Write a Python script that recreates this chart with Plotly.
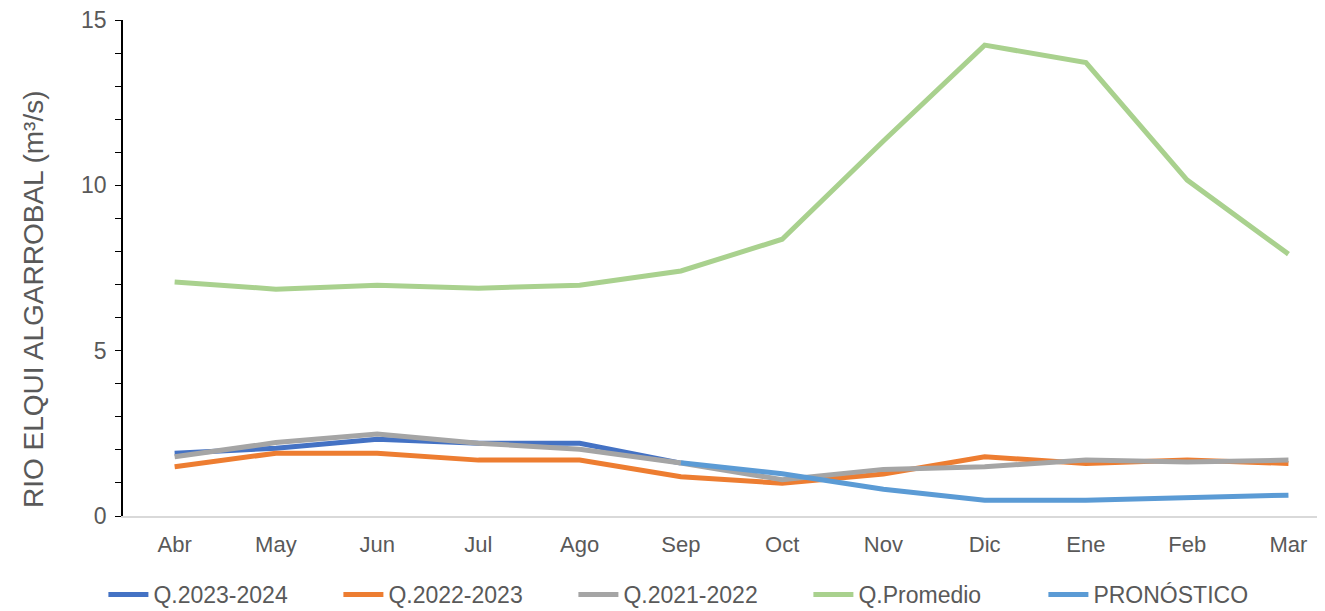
import plotly.graph_objects as go

meses = ["Abr", "May", "Jun", "Jul", "Ago", "Sep", "Oct", "Nov", "Dic", "Ene", "Feb", "Mar"]

q_2023_2024 = [1.9, 2.05, 2.32, 2.2, 2.2, 1.6, None, None, None, None, None, None]
q_2022_2023 = [1.49, 1.9, 1.9, 1.69, 1.69, 1.19, 0.99, 1.27, 1.79, 1.59, 1.69, 1.59]
q_2021_2022 = [1.79, 2.22, 2.48, 2.2, 2.02, 1.6, 1.1, 1.41, 1.49, 1.69, 1.63, 1.69]
q_promedio = [7.08, 6.86, 6.98, 6.89, 6.98, 7.41, 8.37, 11.34, 14.24, 13.71, 10.16, 7.92]
pronostico = [None, None, None, None, None, 1.61, 1.28, 0.81, 0.48, 0.48, 0.56, 0.63]

series = [
    ("Q.2023-2024", q_2023_2024, "#4472C4"),
    ("Q.2022-2023", q_2022_2023, "#ED7D31"),
    ("Q.2021-2022", q_2021_2022, "#A5A5A5"),
    ("Q.Promedio", q_promedio, "#A9D18E"),
    ("PRONÓSTICO", pronostico, "#5B9BD5"),
]

fig = go.Figure()
for nombre, valores, color in series:
    fig.add_trace(go.Scatter(
        x=meses,
        y=valores,
        name=nombre,
        mode="lines",
        line=dict(color=color, width=5),
    ))

txt = "#595959"
# la pagina deja 8px de margen arriba/izquierda, se compensa aqui
fig.update_layout(
    width=1325,
    height=611,
    paper_bgcolor="white",
    plot_bgcolor="white",
    margin=dict(l=115, r=0, t=12, b=103, autoexpand=False),
    font=dict(family="Liberation Sans, Arial, sans-serif", size=22, color=txt),
    legend=dict(
        orientation="h",
        xref="container",
        yref="container",
        x=0.072,
        y=0.005,
        xanchor="left",
        yanchor="bottom",
        entrywidth=180,
        entrywidthmode="pixels",
        font=dict(size=23, color=txt),
        itemwidth=40,
    ),
)
fig.add_annotation(
    text="RIO ELQUI ALGARROBAL (m³/s)",
    xref="paper", yref="paper",
    x=-0.0744, y=0.4375,
    xanchor="center", yanchor="middle",
    textangle=-90,
    showarrow=False,
    font=dict(size=28, color=txt),
)
fig.update_xaxes(
    range=[-0.51, 11.44],
    showline=True,
    linecolor="#D9D9D9",
    linewidth=1.5,
    ticks="",
    showgrid=False,
    zeroline=False,
    ticklabelstandoff=8,
    tickfont=dict(size=22),
)
fig.update_yaxes(
    range=[0, 15],
    tickvals=[0, 5, 10, 15],
    showline=True,
    linecolor="black",
    linewidth=1.5,
    ticks="outside",
    ticklen=6,
    tickcolor="black",
    minor=dict(dtick=1, ticks="outside", ticklen=6, tickcolor="black"),
    showgrid=False,
    zeroline=False,
    ticklabelstandoff=4,
    ticklabeloverflow="allow",
    tickfont=dict(size=23),
)

fig.write_html("out.html")
